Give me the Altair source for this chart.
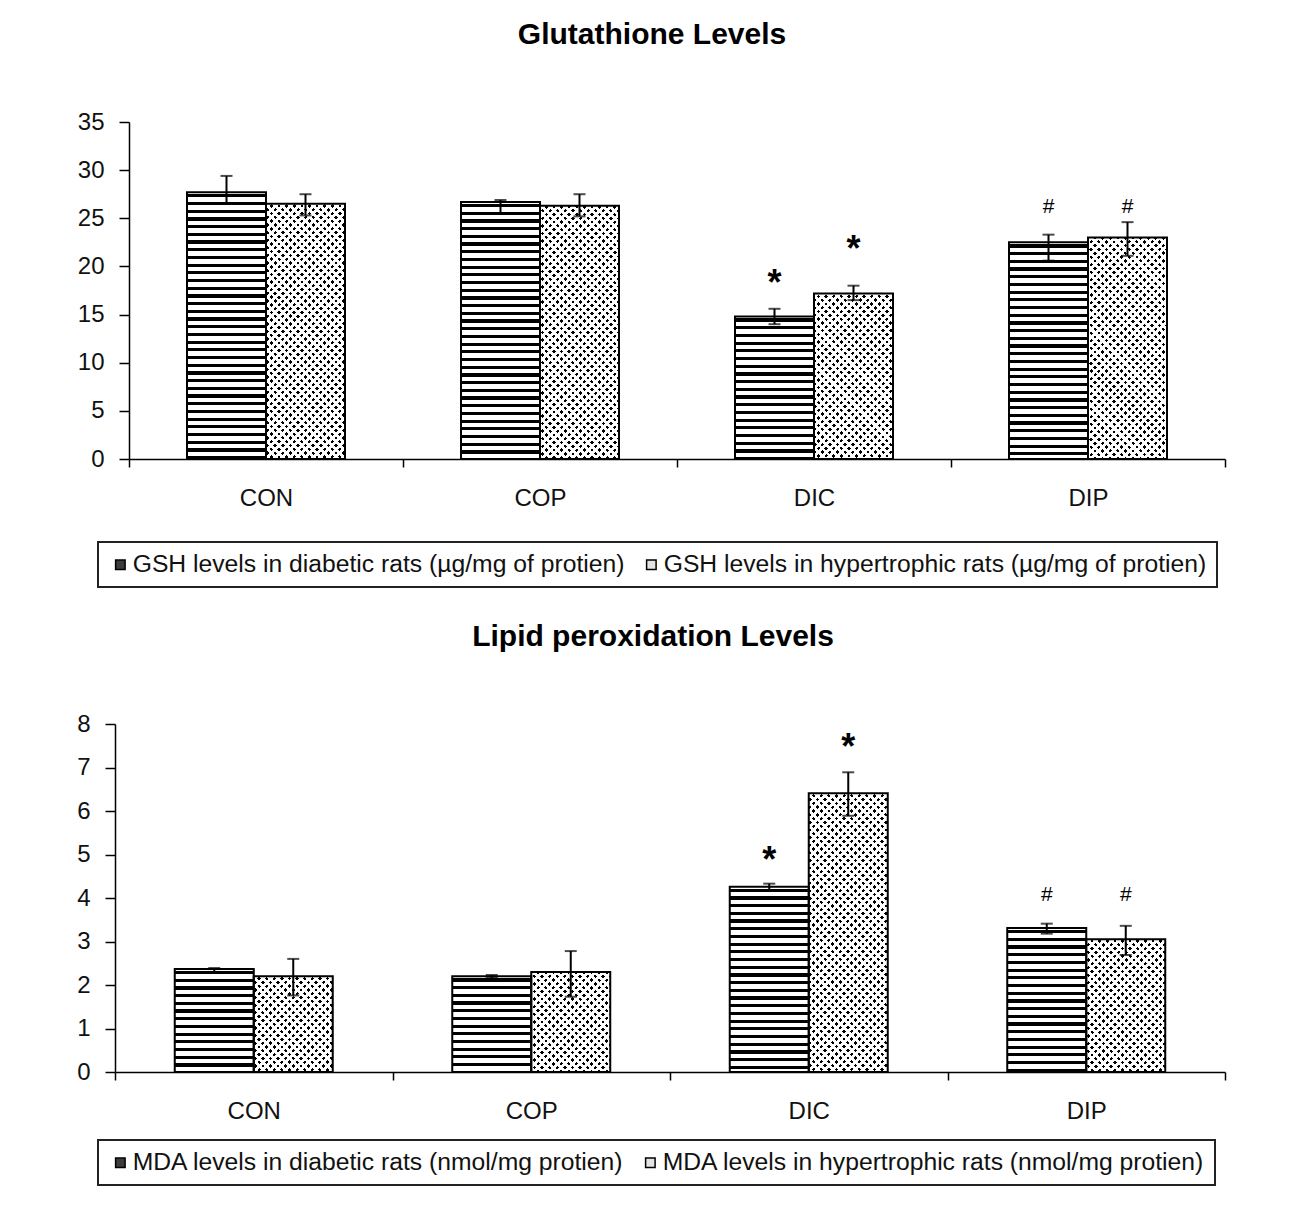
import altair as alt

FONT = "Liberation Sans"

groups = ["CON", "COP", "DIC", "DIP"]
sig_marks = ["", "", "*", "#"]

# ---- Glutathione (GSH) ----
gsh_title = "Glutathione Levels"
gsh_labels = ["GSH levels in diabetic rats (µg/mg of protien)",
              "GSH levels in hypertrophic rats (µg/mg of protien)"]
gsh_diab = [27.7, 26.7, 14.8, 22.5]
gsh_diab_lo = [26.5, 25.5, 14.0, 20.6]
gsh_diab_hi = [29.4, 26.9, 15.6, 23.3]
gsh_hyp = [26.5, 26.3, 17.2, 23.0]
gsh_hyp_lo = [25.3, 25.2, 16.5, 21.1]
gsh_hyp_hi = [27.5, 27.5, 18.0, 24.6]
gsh_sig_diab_y = [None, None, 19.1, 26.3]
gsh_sig_hyp_y = [None, None, 22.6, 26.3]

# ---- Lipid peroxidation (MDA) ----
mda_title = "Lipid peroxidation Levels"
mda_labels = ["MDA levels in diabetic rats (nmol/mg protien)",
              "MDA levels in hypertrophic rats (nmol/mg protien)"]
mda_diab = [2.37, 2.20, 4.26, 3.31]
mda_diab_lo = [2.30, 2.16, 4.18, 3.18]
mda_diab_hi = [2.39, 2.23, 4.33, 3.41]
mda_hyp = [2.20, 2.30, 6.41, 3.05]
mda_hyp_lo = [1.76, 1.73, 5.89, 2.69]
mda_hyp_hi = [2.60, 2.78, 6.89, 3.36]
mda_sig_diab_y = [None, None, 5.06, 4.09]
mda_sig_hyp_y = [None, None, 7.65, 4.09]

BAR_W = 79.0
SHIFT = {"d": -BAR_W / 2, "h": BAR_W / 2}
WHITE = "#ffffff"
CLEAR = "rgba(255,255,255,0)"


def r5(v):
    return round(max(0.0, min(1.0, v)), 5)


def stripes(hpx, period=7.7, black=3.2, off=2.0):
    stops = [{"offset": 0, "color": WHITE}]
    k = 0
    while True:
        a = off + k * period
        if a >= hpx:
            break
        b = min(a + black, hpx)
        stops += [{"offset": r5(a / hpx), "color": WHITE},
                  {"offset": r5(a / hpx), "color": "#000000"},
                  {"offset": r5(b / hpx), "color": "#000000"},
                  {"offset": r5(b / hpx), "color": WHITE}]
        k += 1
    stops.append({"offset": 1, "color": WHITE})
    return {"gradient": "linear", "x1": 0, "y1": 0, "x2": 0, "y2": 1, "stops": stops}


def diag(w, hpx, sign, q=7.6, d=3.6):
    # 45-degree white stripes with transparent gaps; t spans exactly [0, 1] over the bar
    S = (w * w + hpx * hpx) / w
    rng = w + hpx
    k = rng / S
    if sign > 0:
        x1, y1, x2, y2 = 0, 0, k, k * hpx / w
    else:
        x1, y1, x2, y2 = 0, 1, k, 1 - k * hpx / w
    stops = [{"offset": 0, "color": WHITE}]
    m = 0
    while True:
        c = m * q
        a = max(c - d / 2, 0)
        b = min(c + d / 2, rng)
        if a >= rng:
            break
        stops += [{"offset": r5(a / rng), "color": WHITE},
                  {"offset": r5(a / rng), "color": CLEAR},
                  {"offset": r5(b / rng), "color": CLEAR},
                  {"offset": r5(b / rng), "color": WHITE}]
        m += 1
    stops.append({"offset": 1, "color": WHITE})
    return {"gradient": "linear", "x1": x1, "y1": y1, "x2": round(x2, 6),
            "y2": round(y2, 6), "stops": stops}


def panel(title, tdx, toffset, labels, d, dlo, dhi, hy, hlo, hhi, sdy, shy,
          ymax, ystep, width, height, legx, legy, lab_pad, left_ext=0):
    ppu = height / ymax
    bars, errs, sigs = [], [], []
    for i, g in enumerate(groups):
        for kind, s, vals, lo, hi, sy in (("d", labels[0], d, dlo, dhi, sdy),
                                          ("h", labels[1], hy, hlo, hhi, shy)):
            v = vals[i]
            hpx = v * ppu
            if kind == "d":
                row = {"group": g, "series": s, "value": v, "kind": kind,
                       "main": stripes(hpx), "ga": "none", "gb": "none"}
            else:
                row = {"group": g, "series": s, "value": v, "kind": kind,
                       "main": "#000000", "ga": diag(BAR_W, hpx, 1),
                       "gb": diag(BAR_W, hpx, -1)}
            bars.append(row)
            errs.append({"group": g, "series": s, "kind": kind, "lo": lo[i], "hi": hi[i]})
            if sy[i] is not None:
                sigs.append({"group": g, "series": s, "kind": kind, "y": sy[i],
                             "mark": sig_marks[i]})

    yscale = alt.Scale(domain=[0, ymax], nice=False, zero=True)
    if left_ext:
        xscale = alt.Scale(type="band", domain=groups, paddingInner=0, paddingOuter=0,
                           range=[-left_ext, width])
    else:
        xscale = alt.Scale(type="band", domain=groups, paddingInner=0, paddingOuter=0)
    xaxis = alt.Axis(labelAngle=0, tickBand="extent", tickSize=8, labelPadding=19,
                     labelFontSize=24, labelFont=FONT, labelColor="#111",
                     domainColor="#000", tickColor="#000", domainWidth=1.5,
                     tickWidth=1.5, grid=False, title=None)
    yaxis = alt.Axis(values=list(range(0, ymax + 1, ystep)), tickSize=10, offset=left_ext,
                     labelPadding=lab_pad, labelFontSize=24, labelFont=FONT,
                     labelColor="#111", domainColor="#000", tickColor="#000",
                     domainWidth=1.5, tickWidth=1.5, grid=False, title=None)
    X = alt.X("group:N", scale=xscale, axis=xaxis, title=None)

    def Y(f):
        return alt.Y(f, scale=yscale, axis=yaxis, title=None, stack=None)

    legend = alt.Legend(title=None, orient="none", legendX=legx, legendY=legy,
                        direction="horizontal", labelFontSize=24.7, labelFont=FONT,
                        labelColor="#111", labelLimit=1200, symbolType="square",
                        symbolSize=90, symbolStrokeColor="#000",
                        symbolStrokeWidth=1.5, symbolOpacity=1,
                        labelOffset=0, columnPadding=14,
                        padding=10, strokeColor="#222")
    color = alt.Color("series:N", scale=alt.Scale(domain=labels, range=["#3c3c3c", "#e4e4e4"]),
                      legend=legend)

    base = alt.Chart(alt.Data(values=bars))
    eb = alt.Chart(alt.Data(values=errs))
    sb = alt.Chart(alt.Data(values=sigs))
    layers = []
    for kind in ("d", "h"):
        layers.append(base.transform_filter(alt.datum.kind == kind).mark_bar(
            aria=False, width=BAR_W, xOffset=SHIFT[kind]).encode(
            x=X, y=Y("value:Q"), fill=alt.Fill("main:N", scale=None, legend=None)))
    for fld in ("ga", "gb"):
        layers.append(base.transform_filter(alt.datum.kind == "h").mark_bar(
            aria=False, width=BAR_W, xOffset=SHIFT["h"]).encode(
            x=X, y=Y("value:Q"), fill=alt.Fill(fld + ":N", scale=None, legend=None)))
    for kind in ("d", "h"):
        layers.append(base.transform_filter(alt.datum.kind == kind).mark_bar(
            width=BAR_W, xOffset=SHIFT[kind], fillOpacity=0, stroke="#000",
            strokeWidth=2).encode(x=X, y=Y("value:Q"), color=color))
    for kind in ("d", "h"):
        ek = eb.transform_filter(alt.datum.kind == kind)
        layers.append(ek.mark_rule(strokeWidth=2, color="#000", xOffset=SHIFT[kind]).encode(
            x=X, y=Y("lo:Q"), y2="hi:Q"))
        for f in ("hi:Q", "lo:Q"):
            layers.append(ek.mark_tick(orient="horizontal", size=12, thickness=2,
                                       color="#000", xOffset=SHIFT[kind]).encode(x=X, y=Y(f)))
        sk = sb.transform_filter(alt.datum.kind == kind)
        layers.append(sk.transform_filter(alt.datum.mark == "*").mark_text(
            fontSize=36, fontWeight="bold", font=FONT, baseline="alphabetic", dy=20,
            xOffset=SHIFT[kind], color="#000").encode(x=X, y=Y("y:Q"), text="mark:N"))
        layers.append(sk.transform_filter(alt.datum.mark == "#").mark_text(
            fontSize=21, font=FONT, baseline="alphabetic", dy=7,
            xOffset=SHIFT[kind], color="#000").encode(x=X, y=Y("y:Q"), text="mark:N"))

    return alt.layer(*layers).properties(
        width=width, height=height,
        title=alt.TitleParams(text=title, fontSize=30, fontWeight="bold", font=FONT,
                              anchor="middle", frame="group", offset=toffset, dx=tdx, color="#000"))


top = panel(gsh_title, -25, 60, gsh_labels, gsh_diab, gsh_diab_lo, gsh_diab_hi,
            gsh_hyp, gsh_hyp_lo, gsh_hyp_hi, gsh_sig_diab_y, gsh_sig_hyp_y,
            35, 5, 1096, 337, -31, 420, 15)
bottom = panel(mda_title, -24, 60, mda_labels, mda_diab, mda_diab_lo, mda_diab_hi,
               mda_hyp, mda_hyp_lo, mda_hyp_hi, mda_sig_diab_y, mda_sig_hyp_y,
               8, 1, 1096, 348, -31, 416, 15, left_ext=14)

chart = alt.concat(top, bottom, columns=1, spacing=34).resolve_scale(
    color="independent"
).resolve_legend(color="independent").properties(
    padding={"left": 68, "top": 12, "right": 5, "bottom": 5}
).configure(font=FONT).configure_view(stroke=None).configure_legend(strokeWidth=2)

chart.save("out.html", embed_options={"renderer": "svg", "actions": False})
